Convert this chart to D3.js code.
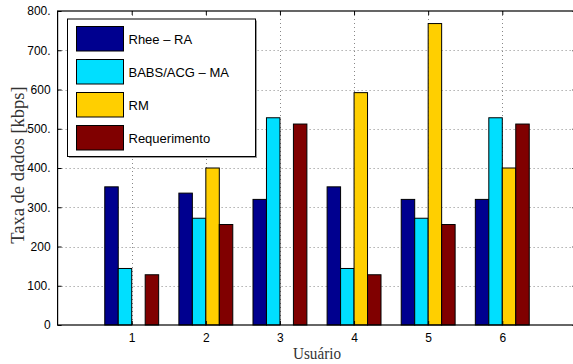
<!DOCTYPE html>
<html>
<head>
<meta charset="utf-8">
<script src="https://cdn.jsdelivr.net/npm/d3@7"></script>
<style>
  body { margin: 0; background: #fff; }
  svg { display: block; }
</style>
</head>
<body>
<div id="chart"></div>
<script>
// data
const users = [1, 2, 3, 4, 5, 6];
const seriesNames = ["Rhee \u2013 RA", "BABS/ACG \u2013 MA", "RM", "Requerimento"];
const rheeRA = [352, 336, 320, 352, 320, 320];
const babsMA = [144, 272, 528, 144, 272, 528];
const rm = [0, 400, 0, 592, 768, 400];
const requerimento = [128, 256, 512, 128, 256, 512];
const yTicks = [0, 100, 200, 300, 400, 500, 600, 700, 800];
const yTickLabels = ["0", "100.", "200", "300.", "400.", "500.", "600", "700.", "800."];
const colors = ["#00008f", "#00dfff", "#ffcf00", "#800000"];

const allSeries = [rheeRA, babsMA, rm, requerimento];

const width = 573, height = 364;
const margin = { left: 57.6, top: 11, right: 576.4, bottom: 325 };

const svg = d3.select("#chart").append("svg")
  .attr("width", width)
  .attr("height", height);

const x = d3.scaleLinear().domain([0, 7]).range([margin.left, margin.right]);
const y = d3.scaleLinear().domain([0, 800]).range([margin.bottom, margin.top]);

// matlab style grouped bars: group width n/(n+1.5)
const groupW = allSeries.length / (allSeries.length + 1.5);
const barW = groupW / allSeries.length;

// grid (dotted)
const grid = svg.append("g").attr("stroke", "#888").attr("stroke-width", 1)
  .attr("stroke-dasharray", "1,3");
grid.selectAll(".gy").data(yTicks.slice(1, -1)).join("line")
  .attr("x1", margin.left).attr("x2", margin.right)
  .attr("y1", d => Math.round(y(d)) + 0.5).attr("y2", d => Math.round(y(d)) + 0.5);
grid.selectAll(".gx").data(users).join("line")
  .attr("x1", d => Math.round(x(d)) + 0.5).attr("x2", d => Math.round(x(d)) + 0.5)
  .attr("y1", margin.top).attr("y2", margin.bottom);

// bars
allSeries.forEach((vals, si) => {
  svg.append("g").selectAll("rect").data(vals.map((v, i) => ({ u: users[i], v })))
    .join("rect")
    .attr("x", d => x(d.u - groupW / 2 + si * barW))
    .attr("width", x(barW) - x(0))
    .attr("y", d => y(d.v))
    .attr("height", d => y(0) - y(d.v))
    .attr("fill", colors[si])
    .attr("stroke", "#000")
    .attr("stroke-width", 1);
});

// box + axes with inward ticks on all sides
const font = "'Liberation Sans', Arial, Helvetica, sans-serif";
svg.append("rect")
  .attr("x", margin.left).attr("y", margin.top)
  .attr("width", margin.right - margin.left).attr("height", margin.bottom - margin.top)
  .attr("fill", "none").attr("stroke", "#000").attr("stroke-width", 1.2);

const yAxis = d3.axisLeft(y).tickValues(yTicks).tickSize(-4).tickPadding(7)
  .tickFormat((d, i) => yTickLabels[i]);
svg.append("g").attr("transform", `translate(${margin.left},0)`).call(yAxis)
  .call(g => g.select(".domain").remove())
  .call(g => g.selectAll("text").attr("font-family", font).attr("font-size", 12).attr("fill", "#000"));
svg.append("g").attr("transform", `translate(${margin.right},0)`)
  .call(d3.axisRight(y).tickValues(yTicks).tickSize(-4).tickFormat(""))
  .call(g => g.select(".domain").remove());

const xAxis = d3.axisBottom(x).tickValues(users).tickSize(-4).tickPadding(8)
  .tickFormat(d3.format("d"));
svg.append("g").attr("transform", `translate(0,${margin.bottom})`).call(xAxis)
  .call(g => g.select(".domain").remove())
  .call(g => g.selectAll("text").attr("font-family", font).attr("font-size", 12).attr("fill", "#000"));
svg.append("g").attr("transform", `translate(0,${margin.top})`)
  .call(d3.axisTop(x).tickValues(users).tickSize(-4).tickFormat(""))
  .call(g => g.select(".domain").remove());

// axis titles
const serif = "'Liberation Serif', 'Times New Roman', Times, serif";
svg.append("text")
  .attr("x", (margin.left + margin.right) / 2).attr("y", 359)
  .attr("text-anchor", "middle")
  .attr("font-family", serif).attr("font-size", 16.5).attr("fill", "#333")
  .attr("textLength", 48).attr("lengthAdjust", "spacingAndGlyphs")
  .text("Usuário");
svg.append("text")
  .attr("transform", `translate(24,165) rotate(-90)`)
  .attr("text-anchor", "middle")
  .attr("font-family", serif).attr("font-size", 18.5).attr("fill", "#333")
  .text("Taxa de dados [kbps]");

// legend
const lg = svg.append("g");
const lx = 67.5, ly = 19, lw = 188, lh = 137.5;
lg.append("rect").attr("x", lx + 1.5).attr("y", ly + 1.5).attr("width", lw).attr("height", lh)
  .attr("fill", "#999");
lg.append("rect").attr("x", lx).attr("y", ly).attr("width", lw).attr("height", lh)
  .attr("fill", "#fff").attr("stroke", "#000").attr("stroke-width", 1);
seriesNames.forEach((name, i) => {
  const ry = 26.5 + i * 33;
  lg.append("rect").attr("x", 76.5).attr("y", ry).attr("width", 47).attr("height", 24.5)
    .attr("fill", colors[i]).attr("stroke", "#000").attr("stroke-width", 1);
  lg.append("text").attr("x", 128.5).attr("y", ry + 17)
    .attr("font-family", font).attr("font-size", 13).attr("fill", "#000")
    .text(name);
});
</script>
</body>
</html>
